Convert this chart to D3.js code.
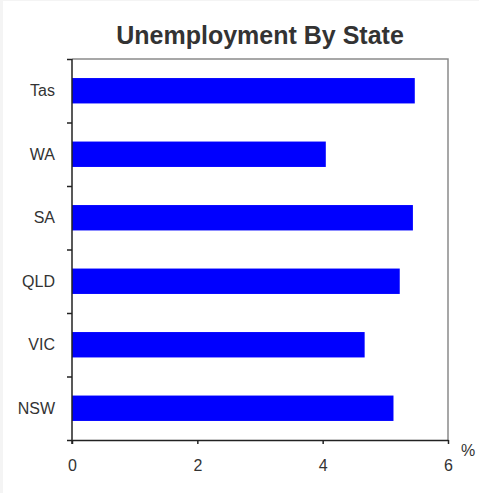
<!DOCTYPE html>
<html>
<meta charset="utf-8">
<head>
  <title>Unemployment By State</title>
</head>
<style>
body {
  margin: 0;
  background: #f4f4f4;
}
svg text {
  font-family: "Liberation Sans", Arial, sans-serif;
  fill: #333;
}
.frame {
  fill: none;
  stroke: #8a8a8a;
  stroke-width: 1.5px;
}
.axis path,
.axis line {
  stroke: #222;
  stroke-width: 1.5px;
}
.axis text {
  font-size: 16px;
}
.bar {
  fill: #0000ff;
}
</style>
<body>
<script src="https://cdnjs.cloudflare.com/ajax/libs/d3/7.8.5/d3.min.js"></script>
<script>

// states listed bottom to top as in the chart
var states = ["NSW", "VIC", "QLD", "SA", "WA", "Tas"]
var rates = [5.13, 4.67, 5.23, 5.44, 4.05, 5.47]
var xTicks = [0, 2, 4, 6]

var width = 479,
    height = 493,
    margin = {top: 59, right: 31, bottom: 53, left: 72}

var w = width - margin.left - margin.right,
    h = height - margin.top - margin.bottom

var svg = d3.select("body").append("svg")
    .attr("width", width)
    .attr("height", height)

svg.append("rect")
    .attr("x", 3).attr("y", 1)
    .attr("width", width - 3).attr("height", height - 1)
    .attr("fill", "#fff")

svg.append("text")
    .attr("x", margin.left + w / 2)
    .attr("y", 44)
    .attr("text-anchor", "middle")
    .style("font-size", "25px")
    .style("font-weight", "bold")
    .text("Unemployment By State")

var g = svg.append("g")
    .attr("transform", "translate(" + margin.left + "," + margin.top + ")")

var x = d3.scaleLinear()
    .domain([0, 6])
    .range([0, w])

var y = d3.scaleBand()
    .domain(states.slice().reverse())
    .range([0, h])
    .paddingInner(0.6)
    .paddingOuter(0.3)

// gray frame on top and right
g.append("path")
    .attr("class", "frame")
    .attr("d", "M0,0H" + w + "V" + h)

g.selectAll(".bar")
  .data(states)
  .enter().append("rect")
    .attr("class", "bar")
    .attr("x", 0)
    .attr("y", function(d) { return y(d) })
    .attr("width", function(d, i) { return x(rates[i]) })
    .attr("height", y.bandwidth())

// category boundary ticks on the left axis
var edge = d3.scaleLinear().domain([0, states.length]).range([0, h])
var ya = g.append("g")
    .attr("class", "axis")
    .call(d3.axisLeft(edge).ticks(states.length).tickSize(5).tickFormat(""))
ya.select(".domain").attr("d", "M0,0V" + (h + 4))

g.append("g")
    .attr("class", "axis")
  .selectAll("text")
  .data(states)
  .enter().append("text")
    .attr("x", -17)
    .attr("y", function(d) { return y(d) + y.bandwidth() / 2 })
    .attr("dy", "0.35em")
    .attr("text-anchor", "end")
    .text(function(d) { return d })

var xa = g.append("g")
    .attr("class", "axis")
    .attr("transform", "translate(0," + h + ")")
    .call(d3.axisBottom(x).tickValues(xTicks).tickFormat(d3.format("d"))
      .tickSize(4).tickPadding(16).tickSizeOuter(0))
xa.selectAll("text").attr("fill", "#222")

g.append("text")
    .attr("x", w + 20)
    .attr("y", h + 16)
    .attr("text-anchor", "middle")
    .style("font-size", "16px")
    .text("%")

</script>
</body>
</html>
